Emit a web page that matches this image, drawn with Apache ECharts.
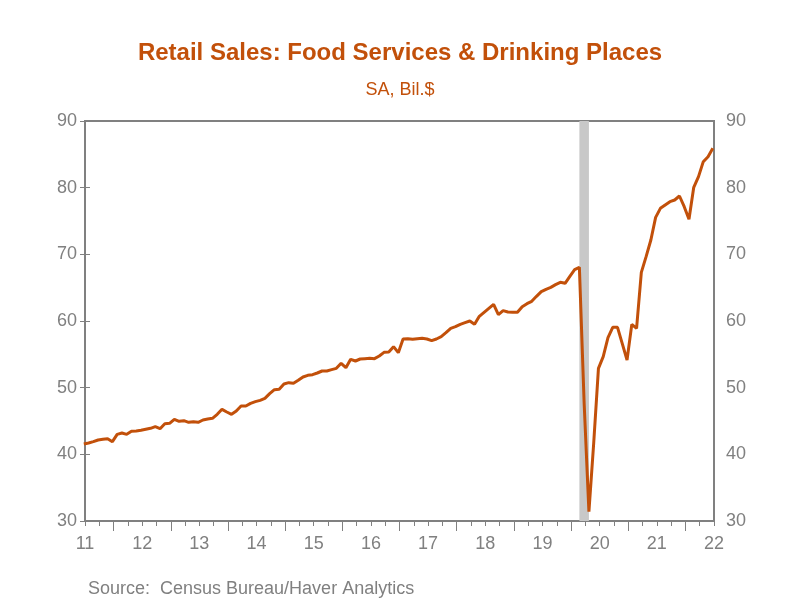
<!DOCTYPE html>
<html><head><meta charset="utf-8">
<script src="https://cdn.jsdelivr.net/npm/echarts@6/dist/echarts.min.js"></script>
<style>html,body{margin:0;padding:0;background:#fff}#c{width:800px;height:600px}</style>
</head><body><div id="c"></div>
<script>
// Monthly data, first value is June 2011, last is June 2022 (SA, Bil.$)
const firstMonth = '2011-06';
const sales = [
  41.55,
  41.7, 41.9, 42.15, 42.25, 42.35, 41.9,           // Jul-Dec 2011
  43.0, 43.2, 43.0, 43.45, 43.5, 43.6, 43.75, 43.9, 44.15, 43.85, 44.6, 44.65, // 2012
  45.25, 44.95, 45.05, 44.8, 44.9, 44.8, 45.15, 45.3, 45.4, 46.0, 46.75, 46.35, // 2013
  46.0, 46.5, 47.25, 47.25, 47.65, 47.9, 48.1, 48.4, 49.1, 49.7, 49.75, 50.55, // 2014
  50.75, 50.65, 51.1, 51.6, 51.85, 51.95, 52.2, 52.5, 52.5, 52.7, 52.9, 53.65, // 2015
  53.0, 54.25, 54.0, 54.3, 54.35, 54.4, 54.35, 54.75, 55.3, 55.35, 56.15, 55.25, // 2016
  57.3, 57.35, 57.25, 57.35, 57.4, 57.3, 57.05, 57.3, 57.65, 58.25, 58.9, 59.15, // 2017
  59.5, 59.75, 60.0, 59.5, 60.7, 61.3, 61.9, 62.5, 60.95, 61.55, 61.35, 61.3, // 2018
  61.3, 62.15, 62.6, 62.95, 63.7, 64.4, 64.75, 65.05, 65.45, 65.8, 65.65, 66.7, // 2019
  67.7, 68.05, 47.65, 31.4, 41.65, 52.9, 54.65, 57.5, 59.05, 59.05, 56.6, 54.15, // 2020
  59.5, 58.9, 67.3, 69.65, 72.15, 75.55, 76.9, 77.4, 77.9, 78.15, 78.75, 77.15, // 2021
  75.25, 80.05, 81.65, 83.9, 84.65, 85.9                                         // 2022
];
const axisStart = '2011-07';           // left edge of the time axis
const axisEnd = '2022-07';             // right edge of the time axis
const yearLabels = ['11','12','13','14','15','16','17','18','19','20','21','22'];
const recession = ['2020-02', '2020-04'];
const yMin = 30, yMax = 90, yStep = 10;

const mIdx = s => { const [y, m] = s.split('-').map(Number); return (y - 2011) * 12 + (m - 7); };
const inMonth = 0.75;                  // where in its month a value is plotted
const startIdx = mIdx(firstMonth);
const seriesData = sales.map((v, i) => [startIdx + i + inMonth, v]);
const xMax = mIdx(axisEnd) - mIdx(axisStart);
const labelPos = yearLabels.map(l => mIdx('20' + l + '-07'));
const janTicks = yearLabels.slice(1).map(l => mIdx('20' + l + '-01'));
const qTicks = []; for (let t = 0; t <= xMax; t += 3) qTicks.push(t);

const grey = '#808080';
const orange = '#C2500A';
const font = 'Liberation Sans, Arial, sans-serif';

const chart = echarts.init(document.getElementById('c'), null, {renderer: 'canvas'});
chart.setOption({
  animation: false,
  backgroundColor: '#fff',
  title: [
    {text: 'Retail Sales: Food Services & Drinking Places', left: 'center', top: 36,
     textStyle: {fontFamily: font, fontSize: 24, fontWeight: 'bold', color: orange}},
    {text: 'SA, Bil.$', left: 'center', top: 76,
     textStyle: {fontFamily: font, fontSize: 18, fontWeight: 'normal', color: orange}},
    {text: 'Source:  Census Bureau/Haver Analytics', left: 83, top: 575,
     textStyle: {fontFamily: font, fontSize: 18, fontWeight: 'normal', color: grey}}
  ],
  grid: {left: 85, right: 86, top: 121, bottom: 79, show: true, borderColor: grey, borderWidth: 2, backgroundColor: 'transparent'},
  xAxis: [
    {type: 'value', min: 0, max: xMax, position: 'bottom',
     axisLine: {show: true, lineStyle: {color: grey, width: 2}},
     axisTick: {show: true, inside: false, length: 5, lineStyle: {color: grey, width: 1}, customValues: qTicks},
     axisLabel: {show: true, margin: 14, color: grey, fontFamily: font, fontSize: 18,
       customValues: labelPos, formatter: v => yearLabels[Math.round(v / 12)]},
     splitLine: {show: false}},
    {type: 'value', min: 0, max: xMax, position: 'bottom',
     axisLine: {show: false},
     axisTick: {show: true, inside: false, length: 10, lineStyle: {color: grey, width: 1}, customValues: janTicks},
     axisLabel: {show: false},
     splitLine: {show: false}}
  ],
  yAxis: [
    {type: 'value', min: yMin, max: yMax, interval: yStep, position: 'left',
     axisLine: {show: true, lineStyle: {color: grey, width: 2}},
     axisTick: {show: true, inside: false, length: 5, lineStyle: {color: grey}},
     axisLabel: {margin: 8, color: grey, fontFamily: font, fontSize: 18},
     splitLine: {show: false}},
    {type: 'value', min: yMin, max: yMax, interval: yStep, position: 'right',
     axisLine: {show: true, lineStyle: {color: grey, width: 2}},
     axisTick: {show: true, inside: false, length: 5, lineStyle: {color: grey}},
     axisLabel: {margin: 12, color: grey, fontFamily: font, fontSize: 18},
     splitLine: {show: false}}
  ],
  series: [
    {type: 'line', data: [], z: 1, silent: true,
     markArea: {silent: true, itemStyle: {color: '#C8C8C8'},
       data: [[{xAxis: mIdx(recession[0]) + inMonth}, {xAxis: mIdx(recession[1]) + inMonth}]]}},
    {type: 'line', data: seriesData, z: 3, showSymbol: false, clip: true,
     lineStyle: {color: orange, width: 3}, itemStyle: {color: orange}}
  ]
});
</script></body></html>
